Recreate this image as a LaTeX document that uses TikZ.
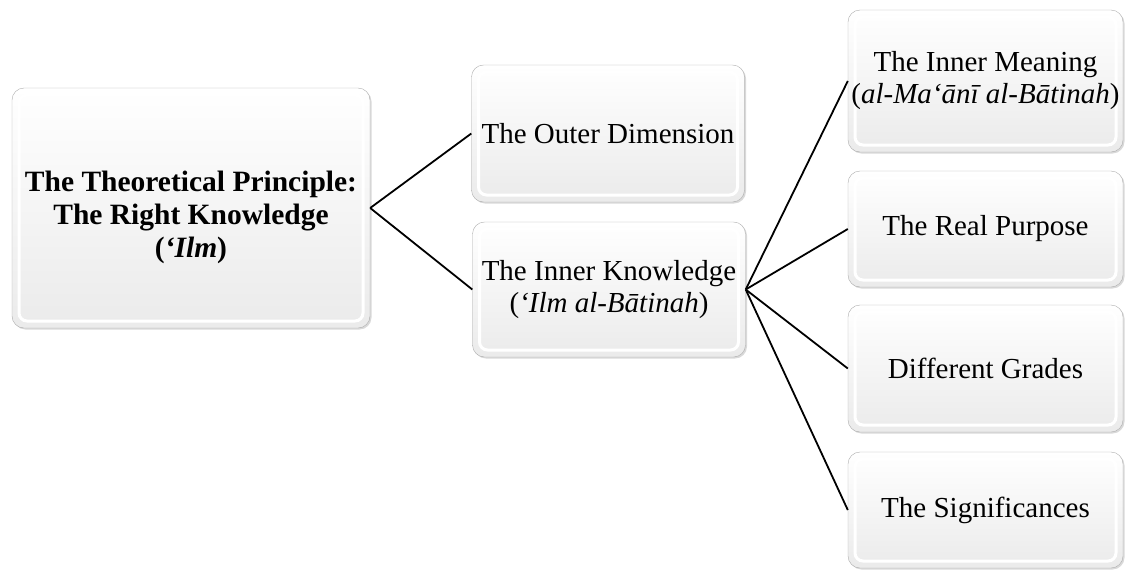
\documentclass[tikz,border=0pt]{standalone}
\usepackage{fontspec}
\setmainfont{Liberation Serif}
\usetikzlibrary{shadows}
\tikzset{
  x=1pt,
  y=-1pt,
  box/.style={rectangle, rounded corners=12pt, draw=gray!65, thin,
    top color=white, bottom color=gray!16, inner sep=0pt,
    align=center, font=\fontsize{29}{32}\selectfont,
    drop shadow={opacity=0.3, shadow xshift=1.5pt, shadow yshift=-1.5pt},
    path picture={
      \draw[white, line width=3pt, rounded corners=8pt]
        ([shift={(7pt,-7pt)}]path picture bounding box.north west)
        rectangle ([shift={(-7pt,7pt)}]path picture bounding box.south east);
    }},
  boxtext/.style={align=center, font=\fontsize{29.5}{33}\selectfont\bfseries},
  link/.style={line width=1.8pt, black},
}

\begin{document}
\begin{tikzpicture}
      \useasboundingbox (0,0) rectangle (1125,571);

      \node[box,minimum width=358,minimum height=240,
        label={[boxtext,yshift=-9pt]center:{The Theoretical Principle:\\The Right Knowledge\\(\textit{‘Ilm})}}]
        (tp) at (191,208) {};
      \node[box,minimum width=273,minimum height=137] (od) at (608,133.5) {The Outer Dimension};
      \node[box,minimum width=273,minimum height=135] (ik) at (609,289.5)
        {The Inner Knowledge\\(\textit{‘Ilm al-Bātinah})};
      \node[box,minimum width=275,minimum height=142] (im) at (985.5,81)
        {The Inner Meaning\\(\textit{al-Ma‘ānī al-Bātinah})};
      \node[box,minimum width=275,minimum height=116] (rp) at (985.5,229) {The Real Purpose};
      \node[box,minimum width=275,minimum height=127] (dg) at (985.5,368.5) {Different Grades};
      \node[box,minimum width=275,minimum height=116] (sg) at (985.5,510) {The Significances};

      \draw[link] (tp.east) edge (od.west)
            (tp.east) edge (ik.west)
            (ik.east) edge (im.west)
            (ik.east) edge (rp.west)
            (ik.east) edge (dg.west)
            (ik.east) edge (sg.west);
    \end{tikzpicture}
\end{document}
